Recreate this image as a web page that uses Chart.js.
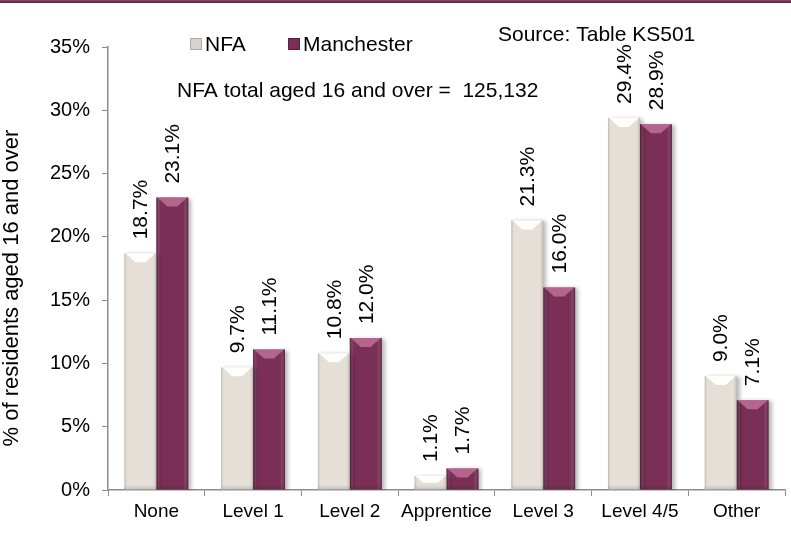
<!DOCTYPE html>
<html>
<head>
<meta charset="utf-8">
<script src="https://cdn.jsdelivr.net/npm/chart.js@4.4.0/dist/chart.umd.min.js"></script>
<style>
  html, body { margin: 0; padding: 0; background: #fff; }
  #wrap { position: relative; width: 791px; height: 534px; overflow: hidden; }
  #band { position: absolute; left: 0; top: 0; width: 791px; height: 3px;
          background: linear-gradient(#8a4a6c, #5a1f3e); }
</style>
</head>
<body>
<div id="wrap">
  <canvas id="qual-chart" width="791" height="534"></canvas>
  <div id="band"></div>
</div>
<script>
//********************
// DATA
//********************
const categories = ["None", "Level 1", "Level 2", "Apprentice", "Level 3", "Level 4/5", "Other"];
const nfaValues = [18.7, 9.7, 10.8, 1.1, 21.3, 29.4, 9.0];
const manchesterValues = [23.1, 11.1, 12.0, 1.7, 16.0, 28.9, 7.1];
const yTicks = [0, 5, 10, 15, 20, 25, 30, 35];

const FONT = "'Liberation Sans', Arial, sans-serif";

// colours per series: base, top bevel, edge shade
const looks = [
  { base: "#e5dfd8", top: "rgba(255,255,255,0.95)", edge: "rgba(120,110,100,0.35)", legend: "#d8d3cd" },
  { base: "#7a2f57", top: "rgba(200,120,160,0.75)", edge: "rgba(40,0,20,0.45)", legend: "#7a2f57" }
];

//********************
// BAR SHADING + LABELS
//********************
const barLook = {
  id: 'barLook',
  beforeDatasetsDraw(chart) {
    const ctx = chart.ctx;
    ctx.save();
    ctx.shadowColor = "rgba(0,0,0,0.28)";
    ctx.shadowOffsetX = 3;
    ctx.shadowOffsetY = 1;
    ctx.shadowBlur = 4;
  },
  afterDatasetsDraw(chart) {
    const ctx = chart.ctx;
    ctx.restore();
    chart.data.datasets.forEach((ds, di) => {
      const meta = chart.getDatasetMeta(di);
      const lk = looks[di];
      meta.data.forEach((bar, i) => {
        const w = bar.width, l = bar.x - w / 2, r = bar.x + w / 2;
        const top = bar.y, bot = bar.base;
        // side shading
        const g = ctx.createLinearGradient(l, 0, r, 0);
        g.addColorStop(0, lk.edge);
        g.addColorStop(0.12, "rgba(255,255,255,0)");
        g.addColorStop(0.85, "rgba(255,255,255,0)");
        g.addColorStop(1, lk.edge);
        ctx.fillStyle = g;
        ctx.fillRect(l, top, w, bot - top);
        // top bevel
        const b = Math.min(9, (bot - top) / 2);
        ctx.fillStyle = lk.top;
        ctx.beginPath();
        ctx.moveTo(l + 1, top);
        ctx.lineTo(r - 1, top);
        ctx.lineTo(r - b - 2, top + b);
        ctx.lineTo(l + b + 2, top + b);
        ctx.closePath();
        ctx.fill();
        // bottom shade
        const gb = ctx.createLinearGradient(0, bot - 5, 0, bot);
        gb.addColorStop(0, "rgba(0,0,0,0)");
        gb.addColorStop(1, "rgba(0,0,0,0.12)");
        ctx.fillStyle = gb;
        ctx.fillRect(l, bot - 5, w, 5);
        // value label, rotated
        ctx.save();
        ctx.translate(bar.x + 1, top - 14);
        ctx.rotate(-Math.PI / 2);
        ctx.fillStyle = "#000";
        ctx.font = "21px " + FONT;
        ctx.textAlign = "left";
        ctx.textBaseline = "middle";
        ctx.fillText(ds.data[i].toFixed(1) + "%", 0, 0);
        ctx.restore();
      });
    });
  }
};

//********************
// NOTES, LEGEND, AXIS TITLE
//********************
const notes = {
  id: 'notes',
  afterDraw(chart) {
    const ctx = chart.ctx;
    ctx.save();
    ctx.fillStyle = "#000";
    ctx.font = "21px " + FONT;
    ctx.textBaseline = "alphabetic";
    ctx.textAlign = "left";
    ctx.fillText("Source: Table KS501", 498, 41);
    ctx.fillText("NFA total aged 16 and over =  125,132", 177, 97);

    // legend
    const items = [{ x: 190, label: "NFA" }, { x: 288, label: "Manchester" }];
    items.forEach((it, k) => {
      ctx.fillStyle = looks[k].legend;
      ctx.fillRect(it.x, 38, 12, 12);
      ctx.strokeStyle = k === 0 ? "#b0aaa4" : "#5a1f3e";
      ctx.strokeRect(it.x + 0.5, 38.5, 11, 11);
      ctx.fillStyle = "#000";
      ctx.fillText(it.label, it.x + 15, 51);
    });

    // y axis title, partly cut by the left edge like the original
    ctx.font = "22px " + FONT;
    ctx.translate(18, 288);
    ctx.rotate(-Math.PI / 2);
    ctx.textAlign = "center";
    ctx.fillText("% of residents aged 16 and over", 0, 0);
    ctx.restore();
  }
};

//********************
// CHART
//********************
const ctx = document.getElementById("qual-chart");
const qualChart = new Chart(ctx, {
  type: 'bar',
  data: {
    labels: categories,
    datasets: [
      { label: 'NFA', data: nfaValues, backgroundColor: looks[0].base, borderWidth: 0 },
      { label: 'Manchester', data: manchesterValues, backgroundColor: looks[1].base, borderWidth: 0 }
    ]
  },
  options: {
    responsive: false,
    animation: false,
    layout: { padding: { top: 47, right: 6, bottom: 0, left: 0 } },
    datasets: { bar: { categoryPercentage: 0.66, barPercentage: 1.0 } },
    plugins: {
      legend: { display: false },
      tooltip: { enabled: false }
    },
    scales: {
      x: {
        grid: { offset: true, drawOnChartArea: false, tickLength: 6, color: "#8c8c8c" },
        border: { color: "#8c8c8c", width: 1.5 },
        ticks: { color: "#000", font: { family: FONT, size: 19 }, padding: 4, maxRotation: 0 },
        afterFit(scale) { scale.height = 44; }
      },
      y: {
        min: 0,
        max: 35,
        afterBuildTicks(scale) { scale.ticks = yTicks.map(v => ({ value: v })); },
        grid: { drawOnChartArea: false, tickLength: 6, color: "#8c8c8c" },
        border: { color: "#8c8c8c", width: 1.5 },
        ticks: {
          color: "#000",
          font: { family: FONT, size: 20 },
          padding: 12,
          callback: (v) => v + "%"
        },
        afterFit(scale) { scale.width = 108; }
      }
    }
  },
  plugins: [barLook, notes]
});
</script>
</body>
</html>
